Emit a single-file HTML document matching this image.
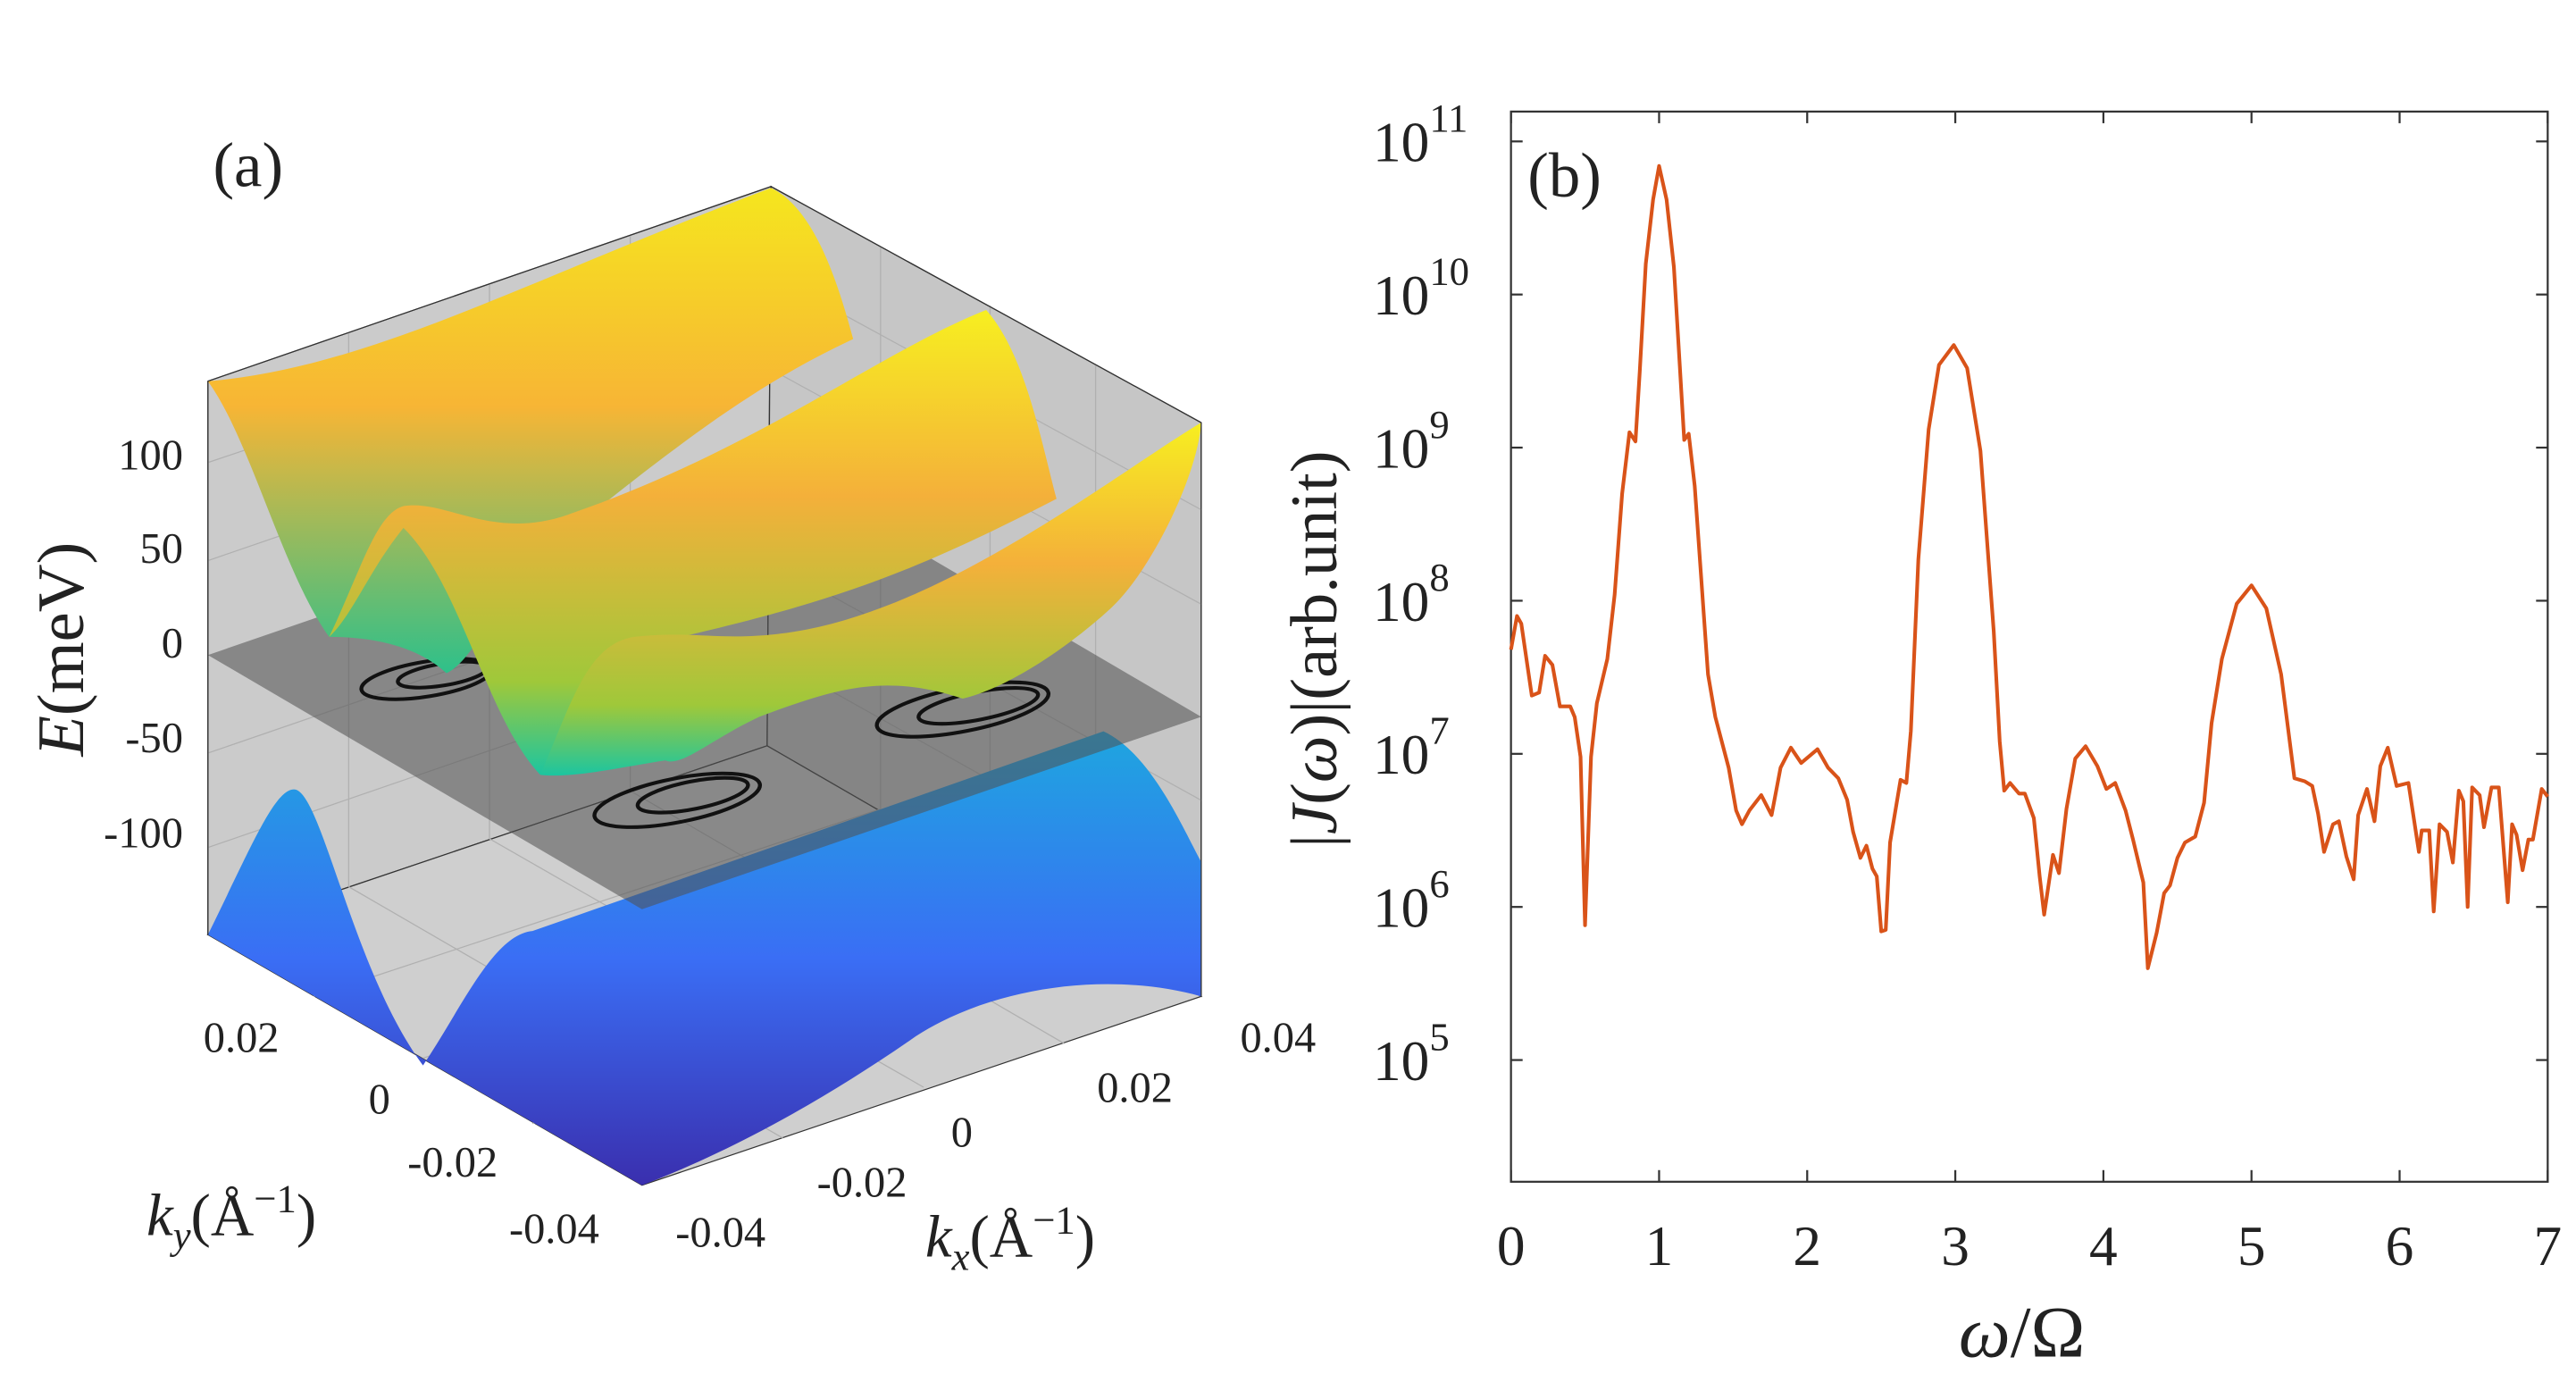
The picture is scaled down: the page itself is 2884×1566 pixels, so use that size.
<!DOCTYPE html>
<html><head><meta charset="utf-8"><style>
html,body{margin:0;padding:0;background:#fff}
svg{display:block}
text{font-family:"Liberation Serif",serif;fill:#222}
</style></head><body>
<svg id="fig" width="2884" height="1566" viewBox="0 0 1548 840.5" xmlns="http://www.w3.org/2000/svg">
<defs>
<linearGradient id="gU" x1="0" y1="0" x2="0" y2="1"><stop offset="0" stop-color="#f5e61e"/><stop offset="0.45" stop-color="#f7b535"/><stop offset="1" stop-color="#2ec08a"/></linearGradient>
<linearGradient id="gU2" x1="0" y1="0" x2="0" y2="1"><stop offset="0" stop-color="#f7ef20"/><stop offset="0.4" stop-color="#f4b03a"/><stop offset="0.8" stop-color="#9fc83a"/><stop offset="1" stop-color="#1cc5a0"/></linearGradient>
<linearGradient id="gL" x1="0" y1="0" x2="0" y2="1"><stop offset="0" stop-color="#1ea6df"/><stop offset="0.5" stop-color="#3a6ef5"/><stop offset="1" stop-color="#3a2fae"/></linearGradient>
</defs>

<!-- Panel (a) -->
<g id="panel-a">
<text x="128" y="112" font-size="38">(a)</text>
<g transform="translate(80.3,81.5) scale(0.470,0.4364)">
  <polygon points="95,338 815,70 810,840 95,1100" fill="#cbcbcb" stroke="#333" stroke-width="1.5"/>
  <polygon points="815,70 1365,395 1365,1185 810,840" fill="#c6c6c6" stroke="#333" stroke-width="1.5"/>
  <polygon points="95,1100 810,840 1365,1185 650,1445" fill="#cfcfcf" stroke="#333" stroke-width="1.5"/>
  <g stroke="#b0b0b0" stroke-width="1.5" fill="none">
    <line x1="275" y1="271" x2="275" y2="1034"/><line x1="455" y1="204" x2="455" y2="968"/><line x1="635" y1="137" x2="635" y2="902"/>
    <line x1="955" y1="152" x2="955" y2="927"/><line x1="1095" y1="234" x2="1095" y2="1014"/><line x1="1230" y1="315" x2="1230" y2="1100"/>
    <line x1="95" y1="450" x2="812" y2="190"/><line x1="95" y1="585" x2="812" y2="320"/><line x1="95" y1="850" x2="811" y2="585"/><line x1="95" y1="980" x2="810" y2="715"/>
    <line x1="812" y1="190" x2="1365" y2="515"/><line x1="812" y1="320" x2="1365" y2="645"/><line x1="811" y1="585" x2="1365" y2="915"/><line x1="810" y1="715" x2="1365" y2="1050"/>
    <line x1="275" y1="1034" x2="830" y2="1380"/><line x1="455" y1="968" x2="1010" y2="1310"/><line x1="635" y1="902" x2="1190" y2="1250"/>
    <line x1="230" y1="1185" x2="955" y2="927"/><line x1="370" y1="1270" x2="1095" y2="1014"/><line x1="510" y1="1360" x2="1230" y2="1100"/>
  </g>
  <path d="M95,1100 C150,980 180,900 205,900 C240,900 280,1150 370,1280 C420,1200 460,1100 510,1095 L1240,820 C1300,850 1340,950 1365,1000 L1365,1185 C1250,1150 1100,1170 1000,1240 C880,1330 760,1400 650,1445 Z" fill="url(#gL)"/>
  <polygon points="95,715 810,450 1365,800 650,1065" fill="#505050" fill-opacity="0.55"/>
  <g fill="none" stroke="#111" stroke-width="5">
    <ellipse cx="375" cy="748" rx="85" ry="24" transform="rotate(-10 375 748)"/><ellipse cx="395" cy="742" rx="58" ry="15" transform="rotate(-10 395 742)"/>
    <ellipse cx="1060" cy="790" rx="112" ry="30" transform="rotate(-12 1060 790)"/><ellipse cx="1080" cy="785" rx="78" ry="19" transform="rotate(-12 1080 785)"/>
    <ellipse cx="695" cy="915" rx="108" ry="30" transform="rotate(-12 695 915)"/><ellipse cx="715" cy="908" rx="72" ry="19" transform="rotate(-12 715 908)"/>
  </g>
  <path d="M95,338 C300,320 500,200 815,72 C870,100 900,200 920,280 C800,340 700,420 540,560 C470,620 440,720 400,740 C360,700 300,690 250,690 C190,600 150,420 95,338 Z" fill="url(#gU)"/>
  <path d="M250,690 C290,600 310,520 345,510 C400,500 460,560 560,520 C800,430 950,300 1090,240 C1140,300 1160,420 1180,500 C1000,600 900,640 700,690 C640,720 620,800 680,860 C600,870 560,880 520,880 C450,800 420,620 345,540 C300,600 280,660 250,690 Z" fill="url(#gU2)"/>
  <path d="M520,880 C560,780 580,700 640,690 C720,680 760,700 860,680 C1050,640 1250,470 1365,395 C1360,470 1300,600 1250,650 C1200,700 1120,760 1060,775 C960,740 900,760 800,800 C740,830 700,870 680,860 C620,870 560,885 520,880 Z" fill="url(#gU2)"/>
  <polyline points="95,338 815,70 1365,395" fill="none" stroke="#333" stroke-width="1.5"/>
  <line x1="95" y1="338" x2="95" y2="1100" stroke="#333" stroke-width="1.5"/>
  <line x1="1365" y1="395" x2="1365" y2="1185" stroke="#333" stroke-width="1.5"/>
</g>
<g font-size="26" text-anchor="end">
<text x="110" y="282">100</text><text x="110" y="338">50</text><text x="110" y="395">0</text><text x="110" y="452">-50</text><text x="110" y="509">-100</text>
</g>
<text transform="translate(50,390) rotate(-90)" font-size="40" text-anchor="middle"><tspan font-style="italic">E</tspan>(meV)</text>
<g font-size="26" text-anchor="middle">
<text x="145" y="632">0.02</text><text x="228" y="669">0</text><text x="272" y="707">-0.02</text><text x="333" y="747">-0.04</text>
</g>
<g font-size="26" text-anchor="middle">
<text x="433" y="749">-0.04</text><text x="518" y="719">-0.02</text><text x="578" y="689">0</text><text x="682" y="662">0.02</text><text x="768" y="632">0.04</text>
</g>
<text x="88" y="742" font-size="36"><tspan font-style="italic">k</tspan><tspan font-size="24" font-style="italic" dy="8">y</tspan><tspan dy="-8">(Å</tspan><tspan font-size="24" dy="-14">−1</tspan><tspan dy="14">)</tspan></text>
<text x="556" y="755" font-size="36"><tspan font-style="italic">k</tspan><tspan font-size="24" font-style="italic" dy="8">x</tspan><tspan dy="-8">(Å</tspan><tspan font-size="24" dy="-14">−1</tspan><tspan dy="14">)</tspan></text>
</g>

<!-- Panel (b) -->
<g id="panel-b">
<rect x="908" y="67" width="623" height="643" fill="#fff" stroke="#333" stroke-width="1.2"/>
<g id="ticks"></g>
<path id="curve" fill="none" stroke="#d95319" stroke-width="2.2" stroke-linejoin="round"/>
<text x="918" y="118" font-size="38">(b)</text>
<text x="1215" y="815" font-size="44" text-anchor="middle"><tspan font-style="italic">ω</tspan>/Ω</text>
<text transform="translate(803,390) rotate(-90)" font-size="40" text-anchor="middle">|<tspan font-style="italic">J</tspan>(<tspan font-style="italic">ω</tspan>)|(arb.unit)</text>
</g>
<script>
const omega=[0,0.04,0.07,0.14,0.19,0.23,0.28,0.33,0.4,0.43,0.47,0.5,0.54,0.58,0.65,0.7,0.75,0.8,0.84,0.87,0.91,0.96,1.0,1.05,1.1,1.17,1.2,1.24,1.33,1.38,1.47,1.52,1.56,1.61,1.69,1.76,1.82,1.89,1.96,2.07,2.14,2.21,2.27,2.31,2.36,2.4,2.44,2.47,2.5,2.53,2.56,2.63,2.67,2.7,2.75,2.82,2.89,2.99,3.08,3.17,3.26,3.3,3.33,3.37,3.43,3.47,3.53,3.57,3.6,3.66,3.7,3.75,3.81,3.88,3.96,4.02,4.08,4.15,4.2,4.27,4.3,4.36,4.41,4.45,4.5,4.55,4.62,4.68,4.73,4.8,4.9,5.0,5.1,5.2,5.29,5.36,5.41,5.45,5.49,5.55,5.59,5.64,5.69,5.72,5.78,5.83,5.87,5.92,5.98,6.06,6.13,6.15,6.2,6.23,6.27,6.32,6.36,6.4,6.43,6.46,6.49,6.54,6.57,6.62,6.67,6.73,6.76,6.79,6.83,6.87,6.9,6.96,7.0];
const logJ=[7.68,7.9,7.85,7.38,7.4,7.64,7.58,7.31,7.31,7.24,6.98,5.88,6.98,7.33,7.62,8.04,8.7,9.1,9.04,9.5,10.2,10.62,10.84,10.62,10.18,9.05,9.09,8.75,7.52,7.24,6.91,6.63,6.54,6.63,6.73,6.6,6.91,7.04,6.94,7.03,6.91,6.84,6.7,6.49,6.32,6.4,6.25,6.2,5.84,5.85,6.42,6.83,6.81,7.15,8.27,9.12,9.54,9.67,9.52,8.98,7.8,7.08,6.76,6.81,6.74,6.74,6.58,6.2,5.95,6.34,6.22,6.64,6.97,7.05,6.92,6.77,6.81,6.63,6.44,6.16,5.6,5.83,6.09,6.14,6.32,6.42,6.46,6.68,7.2,7.62,7.98,8.1,7.95,7.52,6.84,6.82,6.79,6.61,6.36,6.54,6.56,6.33,6.18,6.6,6.77,6.56,6.92,7.04,6.79,6.81,6.36,6.5,6.5,5.97,6.54,6.49,6.29,6.76,6.69,6.0,6.78,6.73,6.52,6.78,6.78,6.03,6.54,6.47,6.24,6.44,6.44,6.77,6.72];
const xTicks=[0,1,2,3,4,5,6,7];
const yTicks=[5,6,7,8,9,10,11];
const X0=908,X1=1531,Y0=67,Y1=710,WMAX=7,LTOP=11.195,LBOT=4.205;
function sx(w){return X0+(X1-X0)*w/WMAX;}
function sy(l){return Y0+(Y1-Y0)*(LTOP-l)/(LTOP-LBOT);}
const NS="http://www.w3.org/2000/svg";
const tg=document.getElementById('ticks');
function mk(tag,attrs,parent){const e=document.createElementNS(NS,tag);for(const k in attrs)e.setAttribute(k,attrs[k]);(parent||tg).appendChild(e);return e;}
xTicks.forEach(t=>{
  const x=sx(t);
  const a=mk('line',{x1:x,y1:Y1,x2:x,y2:Y1-7,stroke:'#333','stroke-width':1.2});
  
  
  const b=mk('line',{x1:x,y1:Y0,x2:x,y2:Y0+7,stroke:'#333','stroke-width':1.2});
  
  
  const tx=mk('text',{x:x,y:Y1+50,'font-size':34,'text-anchor':'middle'});
  tx.textContent=String(t);
  
  
});
yTicks.forEach(t=>{
  const y=sy(t);
  const a=mk('line',{x1:X0,y1:y,x2:X0+7,y2:y,stroke:'#333','stroke-width':1.2});
  
  
  const b=mk('line',{x1:X1,y1:y,x2:X1-7,y2:y,stroke:'#333','stroke-width':1.2});
  
  
  const tx=mk('text',{x:825,y:y+12,'font-size':34});
  
  
  const base=mk('tspan',{},tx);
  base.textContent='10';
  const sup=mk('tspan',{'font-size':24,dy:-18},tx);
  sup.textContent=String(t);
});
let d='';
omega.forEach((w,i)=>{d+=(i?'L':'M')+sx(w).toFixed(1)+','+sy(logJ[i]).toFixed(1);});
document.getElementById('curve').setAttribute('d',d);
</script>
</svg>
</body></html>
